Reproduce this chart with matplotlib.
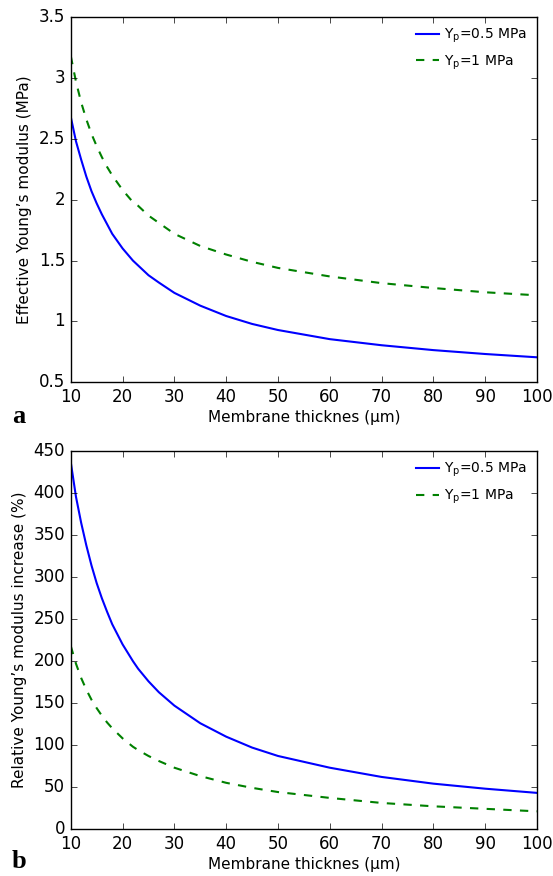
import matplotlib
matplotlib.use("Agg")
import matplotlib.pyplot as plt
from matplotlib.ticker import FormatStrFormatter

# membrane thickness (um)
thickness = [10, 11, 12, 13, 14, 15, 16, 17, 18, 19, 20, 22, 23, 25, 27, 30, 35, 40, 45,
             50, 60, 70, 80, 90, 100]

# effective Young's modulus (MPa)
eff_05 = [2.68, 2.48, 2.33, 2.19, 2.07, 1.97, 1.88, 1.80, 1.72, 1.66, 1.60, 1.50, 1.46,
          1.38, 1.32, 1.235, 1.13, 1.045, 0.98, 0.93, 0.855, 0.805, 0.765, 0.733, 0.706]
eff_1 = [3.18, 2.97, 2.80, 2.66, 2.54, 2.44, 2.35, 2.27, 2.20, 2.14, 2.08, 1.98, 1.95,
         1.87, 1.81, 1.72, 1.62, 1.55, 1.49, 1.44, 1.37, 1.315, 1.275, 1.24, 1.215]

# relative increase (%)
rel_05 = [437, 396, 365, 338, 314, 293, 275, 259, 244, 232, 220, 200, 191, 176, 163, 147,
          126, 110, 97, 87, 73, 62, 54, 48, 43]
rel_1 = [218, 197, 180, 166, 154, 144, 135, 127, 120, 114, 108, 98, 94, 87, 81, 73, 63,
         55, 49, 44, 37, 31, 27, 24, 21]

labels = ["$Y_p$=0.5 MPa", "$Y_p$=1 MPa"]
xticks = [10, 20, 30, 40, 50, 60, 70, 80, 90, 100]

plt.style.use("classic")
plt.rcParams["font.family"] = "DejaVu Sans"
plt.rcParams["mathtext.default"] = "regular"

fig = plt.figure(figsize=(5.53, 8.76), dpi=100)
ax1 = fig.add_axes([0.128, 0.5635, 0.843, 0.417])
ax2 = fig.add_axes([0.128, 0.0537, 0.843, 0.431])

ax1.plot(thickness, eff_05, "b-", lw=1.5, label=labels[0])
ax1.plot(thickness, eff_1, "g--", lw=1.5, label=labels[1])
ax1.set_xlim(10, 100)
ax1.set_ylim(0.5, 3.5)
ax1.set_ylabel("Effective Young’s modulus (MPa)", fontsize=11)
ax1.set_xlabel("Membrane thicknes (µm)", fontsize=11, labelpad=3)

ax2.plot(thickness, rel_05, "b-", lw=1.5, label=labels[0])
ax2.plot(thickness, rel_1, "g--", lw=1.5, label=labels[1])
ax2.set_xlim(10, 100)
ax2.set_ylim(0, 450)
ax2.set_ylabel("Relative Young’s modulus increase (%)", fontsize=11)
ax2.set_xlabel("Membrane thicknes (µm)", fontsize=11, labelpad=3)

for ax in (ax1, ax2):
    ax.set_xticks(xticks)
    ax.yaxis.set_major_formatter(FormatStrFormatter("%g"))
    ax.legend(loc="upper right", frameon=False, fontsize=10, handlelength=2.2,
              handletextpad=0.1, labelspacing=0.6, borderaxespad=0.3)

fig.text(0.034, 0.524, "a", family="Liberation Serif", weight="bold", fontsize=19,
         ha="center", va="center")
fig.text(0.034, 0.017, "b", family="Liberation Serif", weight="bold", fontsize=19,
         ha="center", va="center")

fig.savefig("out.png", dpi=100, facecolor="white")
